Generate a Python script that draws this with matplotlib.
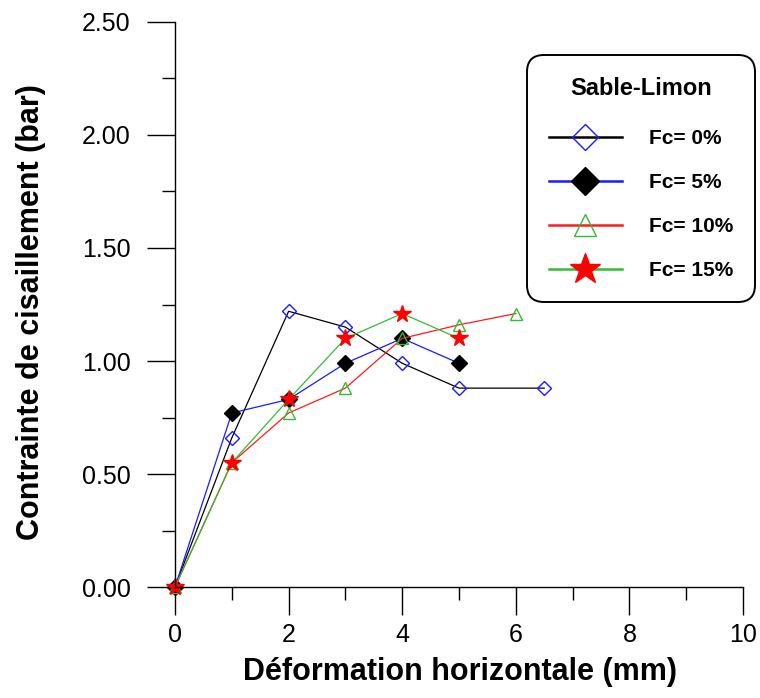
import matplotlib
matplotlib.use('Agg')
import matplotlib.pyplot as plt
from matplotlib.ticker import MultipleLocator, FormatStrFormatter

plt.rcParams['font.family'] = ['Liberation Sans', 'DejaVu Sans']

# data
x_fc0 = [0, 1, 2, 3, 4, 5, 6.5]
y_fc0 = [0.0, 0.66, 1.22, 1.15, 0.99, 0.88, 0.88]

x_fc5 = [0, 1, 2, 3, 4, 5]
y_fc5 = [0.0, 0.77, 0.83, 0.99, 1.10, 0.99]

x_fc10 = [0, 1, 2, 3, 4, 5, 6]
y_fc10 = [0.0, 0.55, 0.77, 0.88, 1.10, 1.16, 1.21]

x_fc15 = [0, 1, 2, 3, 4, 5]
y_fc15 = [0.0, 0.55, 0.83, 1.10, 1.21, 1.10]

labels = ['Fc= 0%', 'Fc= 5%', 'Fc= 10%', 'Fc= 15%']

BLUE = '#1a1aff'
RED = '#ff1a1a'
GREEN = '#33bb33'

fig = plt.figure(figsize=(7.6, 6.98), dpi=100)
ax = fig.add_axes([0.2303, 0.159, 0.7473, 0.8095])

ax.plot(x_fc0, y_fc0, color='black', lw=0.9, marker='D', ms=7.2,
        mfc='none', mec=BLUE, mew=1.0, label=labels[0], clip_on=False)
ax.plot(x_fc5, y_fc5, color=BLUE, lw=0.9, marker='D', ms=8,
        mfc='black', mec='black', label=labels[1], clip_on=False)
ax.plot(x_fc10, y_fc10, color=RED, lw=0.9, marker='^', ms=8.6,
        mfc='none', mec=GREEN, mew=1.0, label=labels[2], clip_on=False)
ax.plot(x_fc15, y_fc15, color=GREEN, lw=0.9, marker='*', ms=13,
        mfc='red', mec='red', label=labels[3], clip_on=False)

ax.set_xlim(0, 10)
ax.set_ylim(0, 2.5)
for s in ['top', 'right']:
    ax.spines[s].set_visible(False)
for s in ['left', 'bottom']:
    ax.spines[s].set_linewidth(1.0)

ax.xaxis.set_major_locator(MultipleLocator(2))
ax.xaxis.set_minor_locator(MultipleLocator(1))
ax.yaxis.set_major_locator(MultipleLocator(0.5))
ax.yaxis.set_minor_locator(MultipleLocator(0.25))
ax.yaxis.set_major_formatter(FormatStrFormatter('%.2f'))
ax.tick_params(which='major', direction='out', length=20, width=1.0,
               labelsize=18)
ax.tick_params(which='minor', direction='out', length=9.5, width=1.0)
ax.tick_params(axis='x', which='major', pad=6)
ax.tick_params(axis='y', which='major', pad=12)

ax.set_xlabel('Déformation horizontale (mm)', fontsize=22, fontweight='bold')
ax.set_ylabel('Contrainte de cisaillement (bar)', fontsize=22,
              fontweight='bold')
ax.xaxis.set_label_coords(0.502, -0.124)
ax.yaxis.set_label_coords(-0.227, 0.487)

leg = ax.legend(loc='upper left', bbox_to_anchor=(527 / 760, 1 - 55 / 698),
                bbox_transform=fig.transFigure, borderaxespad=0,
                title='Sable-Limon', fontsize=15, title_fontsize=17,
                markerscale=1.8, handlelength=3.5, handletextpad=1.3,
                labelspacing=1.2, borderpad=1.05, fancybox=True,
                framealpha=1, edgecolor='black')
leg.get_frame().set_linewidth(1.4)
leg.get_frame().set_boxstyle('round', pad=0, rounding_size=0.8)
leg._legend_box.sep = 21
for t in leg.get_texts():
    t.set_fontweight('bold')
for h in leg.legend_handles:
    h.set_linewidth(1.8)
leg.get_title().set_fontweight('bold')

fig.savefig('out.png', dpi=100)
